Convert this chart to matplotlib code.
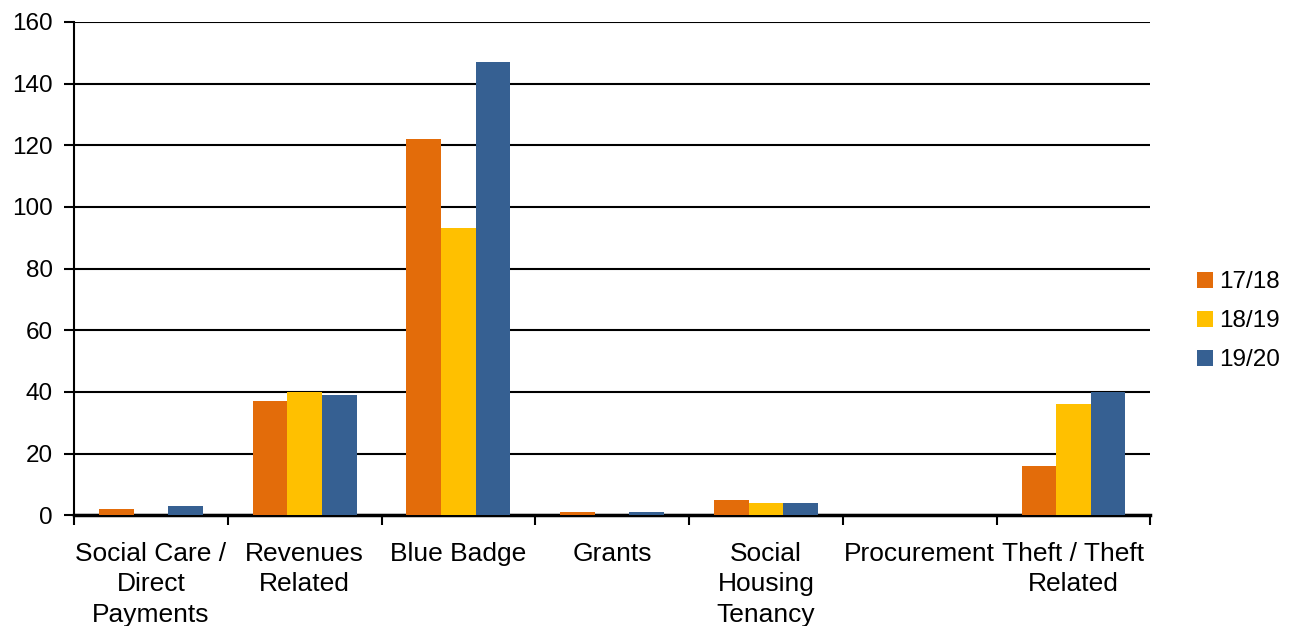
import numpy as np
import matplotlib.pyplot as plt

plt.rcParams['font.family'] = ['Liberation Sans', 'DejaVu Sans']

categorias = ['Social Care /\nDirect\nPayments', 'Revenues\nRelated', 'Blue Badge',
              'Grants', 'Social\nHousing\nTenancy', 'Procurement', 'Theft / Theft\nRelated']
anos = ['17/18', '18/19', '19/20']
v_1718 = [2, 37, 122, 1, 5, 0, 16]
v_1819 = [0, 40, 93, 0, 4, 0, 36]
v_1920 = [3, 39, 147, 1, 4, 0, 40]
cores = ['#E36C0A', '#FFC000', '#366092']

fig = plt.figure(figsize=(12.97, 6.26), dpi=100)
ax = fig.add_axes([0.057, 0.177, 0.83, 0.788])

x = np.arange(len(categorias))
largura = 0.225
for i, (serie, cor, nome) in enumerate(zip([v_1718, v_1819, v_1920], cores, anos)):
    ax.bar(x + (i - 1) * largura, serie, largura, color=cor, label=nome, zorder=3)

ax.set_xlim(-0.5, len(categorias) - 0.5)
ax.set_ylim(0, 160)
ax.set_yticks(range(0, 161, 20))
ax.grid(axis='y', color='black', linewidth=1.5, zorder=0)
ax.set_axisbelow(True)

ax.set_xticks(x)
ax.set_xticklabels(categorias, fontsize=19, linespacing=1.36, va='top')
ax.set_xticks(np.arange(-0.5, len(categorias), 1), minor=True)
ax.tick_params(axis='x', which='major', length=0, pad=19)
ax.tick_params(axis='x', which='minor', length=7, width=1.5, direction='out')
ax.tick_params(axis='y', labelsize=17.5, length=7, width=1.5, pad=8)

for lado in ['top', 'right']:
    ax.spines[lado].set_visible(False)
ax.spines['left'].set_linewidth(1.5)
ax.spines['bottom'].set_linewidth(2.5)

ax.legend(loc='center left', bbox_to_anchor=(1.023, 0.393), frameon=False,
          fontsize=17.5, handlelength=0.65, handleheight=0.65, handletextpad=0.25,
          labelspacing=0.7)

fig.savefig('out.png', dpi=100)
